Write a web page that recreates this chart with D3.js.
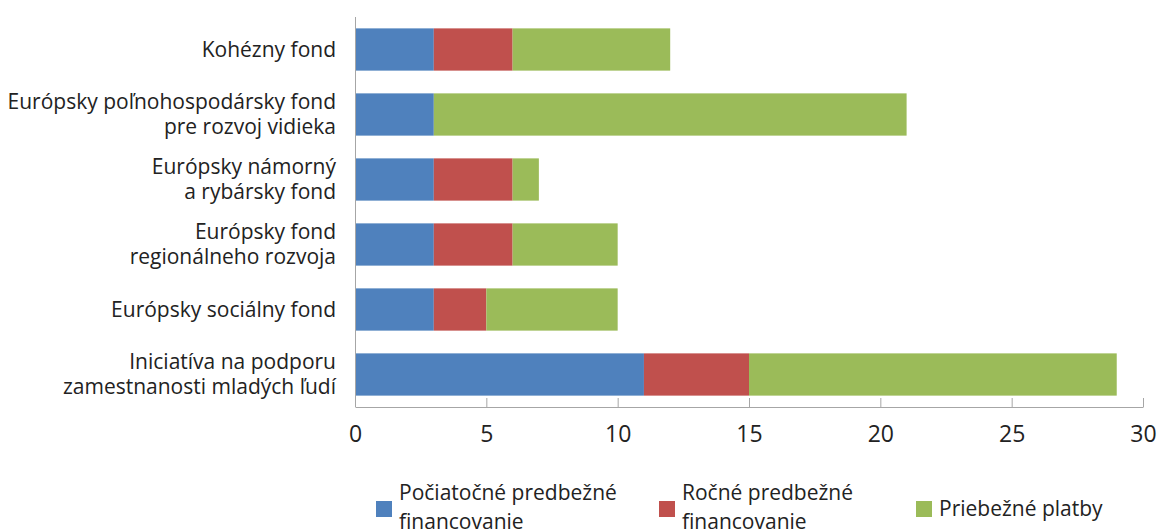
<!DOCTYPE html>
<html><head><meta charset="utf-8">
<script src="https://cdn.jsdelivr.net/npm/d3@7"></script>
<style>body{margin:0;background:#fff;} text{font-family:"Open Sans",sans-serif;fill:#222;}</style>
</head><body><svg id="c" width="1161" height="529"></svg>
<script>
const categories = [
  ["Kohézny fond"],
  ["Európsky poľnohospodársky fond","pre rozvoj vidieka"],
  ["Európsky námorný","a rybársky fond"],
  ["Európsky fond","regionálneho rozvoja"],
  ["Európsky sociálny fond"],
  ["Iniciatíva na podporu","zamestnanosti mladých ľudí"]
];
const seriesNames = [["Počiatočné predbežné","financovanie"],["Ročné predbežné","financovanie"],["Priebežné platby"]];
const initialPre = [3,3,3,3,3,11];
const annualPre = [3,0,3,3,2,4];
const interim = [6,18,1,4,5,14];
const colors = ["#4f81bd","#c0504d","#9bbb59"];
const xTicks = [0,5,10,15,20,25,30];

const svg = d3.select("#c");
const x = d3.scaleLinear().domain([0,30]).range([355,1143]);
const idx = d3.range(categories.length);
const y = d3.scaleBand().domain(idx).range([17,407]).paddingInner(0.35).paddingOuter(0.175);

const data = idx.map(i=>({i, a:initialPre[i], b:annualPre[i], c:interim[i]}));
const stack = d3.stack().keys(["a","b","c"])(data);
stack.forEach((s,k)=>{
  svg.append("g").selectAll("rect").data(s).enter().append("rect")
    .attr("x",d=>x(d[0])).attr("width",d=>x(d[1])-x(d[0]))
    .attr("y",d=>y(d.data.i)).attr("height",y.bandwidth())
    .attr("fill",colors[k]);
});

// axes
const ax = svg.append("g").attr("transform","translate(0,407)")
  .call(d3.axisBottom(x).tickValues(xTicks).tickSizeInner(-9).tickSizeOuter(0).tickFormat(d3.format("d")));
ax.select(".domain").attr("stroke","#a6a6a6");
ax.selectAll(".tick line").attr("stroke","#a6a6a6");
ax.selectAll(".tick text").attr("y",35).attr("dy",0).attr("font-size",23).attr("font-family","Open Sans").attr("fill","#222");
svg.append("line").attr("x1",355.5).attr("x2",355.5).attr("y1",17).attr("y2",407).attr("stroke","#a6a6a6");

// category labels
categories.forEach((lines,i)=>{
  const cy = y(i)+y.bandwidth()/2;
  const t = svg.append("text").attr("text-anchor","end").attr("font-size",21);
  lines.forEach((l,j)=>{
    t.append("tspan").attr("x",336).attr("y",cy + (j-(lines.length-1)/2)*25.5 + 7).text(l);
  });
});

// legend
const legX = [376,659,916];
seriesNames.forEach((lines,k)=>{
  const g = svg.append("g");
  g.append("rect").attr("x",legX[k]).attr("y",501).attr("width",16).attr("height",16).attr("fill",colors[k]);
  const t = g.append("text").attr("font-size",21);
  lines.forEach((l,j)=>{
    t.append("tspan").attr("x",legX[k]+23).attr("y",(lines.length>1?500:516)+j*29).text(l);
  });
});
</script></body></html>
